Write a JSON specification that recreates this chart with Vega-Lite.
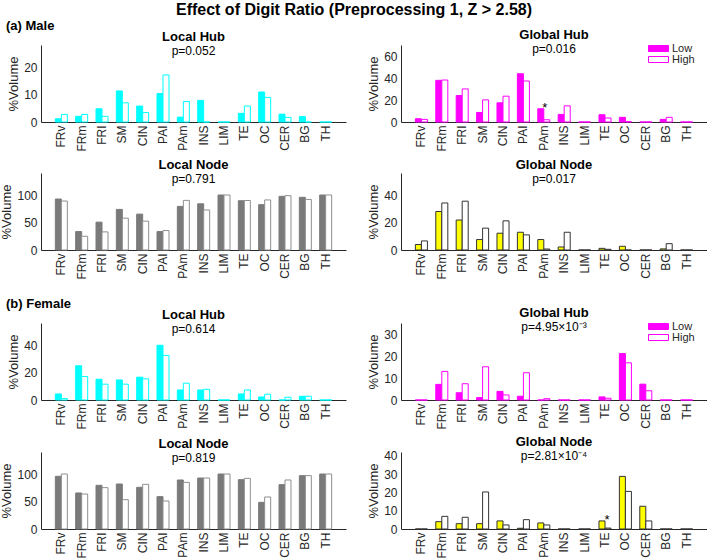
{
  "$schema": "https://vega.github.io/schema/vega-lite/v6.json",
  "padding": {"left": 0, "top": 2, "right": 0, "bottom": 0},
  "background": "#ffffff",
  "title": {"text": "Effect of Digit Ratio (Preprocessing 1, Z > 2.58)", "fontSize": 16, "fontWeight": "bold", "anchor": "middle", "offset": 2, "color": "#000000"},
  "datasets": {
    "bars": [
      {"panel":"M_LH","region":"FRv","group":"Low","value":1.2},{"panel":"M_LH","region":"FRv","group":"High","value":2.8},
      {"panel":"M_LH","region":"FRm","group":"Low","value":2.1},{"panel":"M_LH","region":"FRm","group":"High","value":2.8},
      {"panel":"M_LH","region":"FRI","group":"Low","value":4.9},{"panel":"M_LH","region":"FRI","group":"High","value":2.1},
      {"panel":"M_LH","region":"SM","group":"Low","value":11.5},{"panel":"M_LH","region":"SM","group":"High","value":7.1},
      {"panel":"M_LH","region":"CIN","group":"Low","value":5.9},{"panel":"M_LH","region":"CIN","group":"High","value":3.5},
      {"panel":"M_LH","region":"PAI","group":"Low","value":10.5},{"panel":"M_LH","region":"PAI","group":"High","value":17.4},
      {"panel":"M_LH","region":"PAm","group":"Low","value":1.8},{"panel":"M_LH","region":"PAm","group":"High","value":7.6},
      {"panel":"M_LH","region":"INS","group":"Low","value":8.0},{"panel":"M_LH","region":"INS","group":"High","value":0},
      {"panel":"M_LH","region":"LIM","group":"Low","value":0},{"panel":"M_LH","region":"LIM","group":"High","value":0},
      {"panel":"M_LH","region":"TE","group":"Low","value":3.2},{"panel":"M_LH","region":"TE","group":"High","value":5.9},
      {"panel":"M_LH","region":"OC","group":"Low","value":11.1},{"panel":"M_LH","region":"OC","group":"High","value":9.1},
      {"panel":"M_LH","region":"CER","group":"Low","value":2.9},{"panel":"M_LH","region":"CER","group":"High","value":1.7},
      {"panel":"M_LH","region":"BG","group":"Low","value":2.0},{"panel":"M_LH","region":"BG","group":"High","value":0},
      {"panel":"M_LH","region":"TH","group":"Low","value":0},{"panel":"M_LH","region":"TH","group":"High","value":0},

      {"panel":"M_GH","region":"FRv","group":"Low","value":3.0},{"panel":"M_GH","region":"FRv","group":"High","value":2.4},
      {"panel":"M_GH","region":"FRm","group":"Low","value":38.4},{"panel":"M_GH","region":"FRm","group":"High","value":38.7},
      {"panel":"M_GH","region":"FRI","group":"Low","value":24.4},{"panel":"M_GH","region":"FRI","group":"High","value":30.5},
      {"panel":"M_GH","region":"SM","group":"Low","value":8.8},{"panel":"M_GH","region":"SM","group":"High","value":20.4},
      {"panel":"M_GH","region":"CIN","group":"Low","value":17.7},{"panel":"M_GH","region":"CIN","group":"High","value":23.8},
      {"panel":"M_GH","region":"PAI","group":"Low","value":44.5},{"panel":"M_GH","region":"PAI","group":"High","value":37.8},
      {"panel":"M_GH","region":"PAm","group":"Low","value":12.2},{"panel":"M_GH","region":"PAm","group":"High","value":2.1},
      {"panel":"M_GH","region":"INS","group":"Low","value":7.0},{"panel":"M_GH","region":"INS","group":"High","value":14.9},
      {"panel":"M_GH","region":"LIM","group":"Low","value":0},{"panel":"M_GH","region":"LIM","group":"High","value":0},
      {"panel":"M_GH","region":"TE","group":"Low","value":6.7},{"panel":"M_GH","region":"TE","group":"High","value":3.7},
      {"panel":"M_GH","region":"OC","group":"Low","value":4.3},{"panel":"M_GH","region":"OC","group":"High","value":0.3},
      {"panel":"M_GH","region":"CER","group":"Low","value":0},{"panel":"M_GH","region":"CER","group":"High","value":0},
      {"panel":"M_GH","region":"BG","group":"Low","value":2.4},{"panel":"M_GH","region":"BG","group":"High","value":4.3},
      {"panel":"M_GH","region":"TH","group":"Low","value":0},{"panel":"M_GH","region":"TH","group":"High","value":0},

      {"panel":"M_LN","region":"FRv","group":"Low","value":92.7},{"panel":"M_LN","region":"FRv","group":"High","value":89},
      {"panel":"M_LN","region":"FRm","group":"Low","value":33.5},{"panel":"M_LN","region":"FRm","group":"High","value":25},
      {"panel":"M_LN","region":"FRI","group":"Low","value":50.6},{"panel":"M_LN","region":"FRI","group":"High","value":32.9},
      {"panel":"M_LN","region":"SM","group":"Low","value":73.8},{"panel":"M_LN","region":"SM","group":"High","value":57.9},
      {"panel":"M_LN","region":"CIN","group":"Low","value":65.2},{"panel":"M_LN","region":"CIN","group":"High","value":52.4},
      {"panel":"M_LN","region":"PAI","group":"Low","value":33.5},{"panel":"M_LN","region":"PAI","group":"High","value":35.4},
      {"panel":"M_LN","region":"PAm","group":"Low","value":79.3},{"panel":"M_LN","region":"PAm","group":"High","value":90.2},
      {"panel":"M_LN","region":"INS","group":"Low","value":84},{"panel":"M_LN","region":"INS","group":"High","value":72.7},
      {"panel":"M_LN","region":"LIM","group":"Low","value":100},{"panel":"M_LN","region":"LIM","group":"High","value":100},
      {"panel":"M_LN","region":"TE","group":"Low","value":89.6},{"panel":"M_LN","region":"TE","group":"High","value":90},
      {"panel":"M_LN","region":"OC","group":"Low","value":82.4},{"panel":"M_LN","region":"OC","group":"High","value":91},
      {"panel":"M_LN","region":"CER","group":"Low","value":97.6},{"panel":"M_LN","region":"CER","group":"High","value":98.8},
      {"panel":"M_LN","region":"BG","group":"Low","value":95.8},{"panel":"M_LN","region":"BG","group":"High","value":92},
      {"panel":"M_LN","region":"TH","group":"Low","value":100},{"panel":"M_LN","region":"TH","group":"High","value":100},

      {"panel":"M_GN","region":"FRv","group":"Low","value":4.0},{"panel":"M_GN","region":"FRv","group":"High","value":6.6},
      {"panel":"M_GN","region":"FRm","group":"Low","value":28},{"panel":"M_GN","region":"FRm","group":"High","value":34.2},
      {"panel":"M_GN","region":"FRI","group":"Low","value":21.8},{"panel":"M_GN","region":"FRI","group":"High","value":35.5},
      {"panel":"M_GN","region":"SM","group":"Low","value":7.6},{"panel":"M_GN","region":"SM","group":"High","value":15.9},
      {"panel":"M_GN","region":"CIN","group":"Low","value":12.2},{"panel":"M_GN","region":"CIN","group":"High","value":21.2},
      {"panel":"M_GN","region":"PAI","group":"Low","value":12.9},{"panel":"M_GN","region":"PAI","group":"High","value":11},
      {"panel":"M_GN","region":"PAm","group":"Low","value":7.6},{"panel":"M_GN","region":"PAm","group":"High","value":0.7},
      {"panel":"M_GN","region":"INS","group":"Low","value":2.2},{"panel":"M_GN","region":"INS","group":"High","value":12.9},
      {"panel":"M_GN","region":"LIM","group":"Low","value":0},{"panel":"M_GN","region":"LIM","group":"High","value":0},
      {"panel":"M_GN","region":"TE","group":"Low","value":1.2},{"panel":"M_GN","region":"TE","group":"High","value":0.5},
      {"panel":"M_GN","region":"OC","group":"Low","value":2.7},{"panel":"M_GN","region":"OC","group":"High","value":0},
      {"panel":"M_GN","region":"CER","group":"Low","value":0},{"panel":"M_GN","region":"CER","group":"High","value":0},
      {"panel":"M_GN","region":"BG","group":"Low","value":0.8},{"panel":"M_GN","region":"BG","group":"High","value":4.6},
      {"panel":"M_GN","region":"TH","group":"Low","value":0},{"panel":"M_GN","region":"TH","group":"High","value":0},

      {"panel":"F_LH","region":"FRv","group":"Low","value":4.4},{"panel":"F_LH","region":"FRv","group":"High","value":1.0},
      {"panel":"F_LH","region":"FRm","group":"Low","value":24.9},{"panel":"F_LH","region":"FRm","group":"High","value":17.1},
      {"panel":"F_LH","region":"FRI","group":"Low","value":15.1},{"panel":"F_LH","region":"FRI","group":"High","value":11.5},
      {"panel":"F_LH","region":"SM","group":"Low","value":14.6},{"panel":"F_LH","region":"SM","group":"High","value":11.5},
      {"panel":"F_LH","region":"CIN","group":"Low","value":16.6},{"panel":"F_LH","region":"CIN","group":"High","value":15.4},
      {"panel":"F_LH","region":"PAI","group":"Low","value":39.8},{"panel":"F_LH","region":"PAI","group":"High","value":32.4},
      {"panel":"F_LH","region":"PAm","group":"Low","value":7.3},{"panel":"F_LH","region":"PAm","group":"High","value":12.2},
      {"panel":"F_LH","region":"INS","group":"Low","value":7.3},{"panel":"F_LH","region":"INS","group":"High","value":7.8},
      {"panel":"F_LH","region":"LIM","group":"Low","value":0},{"panel":"F_LH","region":"LIM","group":"High","value":0},
      {"panel":"F_LH","region":"TE","group":"Low","value":4.4},{"panel":"F_LH","region":"TE","group":"High","value":7.3},
      {"panel":"F_LH","region":"OC","group":"Low","value":2.2},{"panel":"F_LH","region":"OC","group":"High","value":4.2},
      {"panel":"F_LH","region":"CER","group":"Low","value":0},{"panel":"F_LH","region":"CER","group":"High","value":2.0},
      {"panel":"F_LH","region":"BG","group":"Low","value":2.7},{"panel":"F_LH","region":"BG","group":"High","value":2.7},
      {"panel":"F_LH","region":"TH","group":"Low","value":0},{"panel":"F_LH","region":"TH","group":"High","value":0},

      {"panel":"F_GH","region":"FRv","group":"Low","value":0},{"panel":"F_GH","region":"FRv","group":"High","value":0},
      {"panel":"F_GH","region":"FRm","group":"Low","value":7.1},{"panel":"F_GH","region":"FRm","group":"High","value":13},
      {"panel":"F_GH","region":"FRI","group":"Low","value":3.3},{"panel":"F_GH","region":"FRI","group":"High","value":7.4},
      {"panel":"F_GH","region":"SM","group":"Low","value":1.1},{"panel":"F_GH","region":"SM","group":"High","value":15.1},
      {"panel":"F_GH","region":"CIN","group":"Low","value":3.9},{"panel":"F_GH","region":"CIN","group":"High","value":2.3},
      {"panel":"F_GH","region":"PAI","group":"Low","value":1.7},{"panel":"F_GH","region":"PAI","group":"High","value":12.4},
      {"panel":"F_GH","region":"PAm","group":"Low","value":0},{"panel":"F_GH","region":"PAm","group":"High","value":0.6},
      {"panel":"F_GH","region":"INS","group":"Low","value":0},{"panel":"F_GH","region":"INS","group":"High","value":0},
      {"panel":"F_GH","region":"LIM","group":"Low","value":0},{"panel":"F_GH","region":"LIM","group":"High","value":0},
      {"panel":"F_GH","region":"TE","group":"Low","value":1.4},{"panel":"F_GH","region":"TE","group":"High","value":0.8},
      {"panel":"F_GH","region":"OC","group":"Low","value":21.1},{"panel":"F_GH","region":"OC","group":"High","value":16.9},
      {"panel":"F_GH","region":"CER","group":"Low","value":7.2},{"panel":"F_GH","region":"CER","group":"High","value":4.2},
      {"panel":"F_GH","region":"BG","group":"Low","value":0},{"panel":"F_GH","region":"BG","group":"High","value":0},
      {"panel":"F_GH","region":"TH","group":"Low","value":0},{"panel":"F_GH","region":"TH","group":"High","value":0},

      {"panel":"F_LN","region":"FRv","group":"Low","value":95.8},{"panel":"F_LN","region":"FRv","group":"High","value":100},
      {"panel":"F_LN","region":"FRm","group":"Low","value":65.5},{"panel":"F_LN","region":"FRm","group":"High","value":63.6},
      {"panel":"F_LN","region":"FRI","group":"Low","value":79.4},{"panel":"F_LN","region":"FRI","group":"High","value":75.2},
      {"panel":"F_LN","region":"SM","group":"Low","value":81.8},{"panel":"F_LN","region":"SM","group":"High","value":53.3},
      {"panel":"F_LN","region":"CIN","group":"Low","value":75.8},{"panel":"F_LN","region":"CIN","group":"High","value":81.2},
      {"panel":"F_LN","region":"PAI","group":"Low","value":58.8},{"panel":"F_LN","region":"PAI","group":"High","value":50.9},
      {"panel":"F_LN","region":"PAm","group":"Low","value":89.1},{"panel":"F_LN","region":"PAm","group":"High","value":84.8},
      {"panel":"F_LN","region":"INS","group":"Low","value":92.7},{"panel":"F_LN","region":"INS","group":"High","value":92.7},
      {"panel":"F_LN","region":"LIM","group":"Low","value":100},{"panel":"F_LN","region":"LIM","group":"High","value":100},
      {"panel":"F_LN","region":"TE","group":"Low","value":89.7},{"panel":"F_LN","region":"TE","group":"High","value":92.1},
      {"panel":"F_LN","region":"OC","group":"Low","value":48.5},{"panel":"F_LN","region":"OC","group":"High","value":58.2},
      {"panel":"F_LN","region":"CER","group":"Low","value":80.6},{"panel":"F_LN","region":"CER","group":"High","value":89.1},
      {"panel":"F_LN","region":"BG","group":"Low","value":97},{"panel":"F_LN","region":"BG","group":"High","value":97},
      {"panel":"F_LN","region":"TH","group":"Low","value":100},{"panel":"F_LN","region":"TH","group":"High","value":100},

      {"panel":"F_GN","region":"FRv","group":"Low","value":0},{"panel":"F_GN","region":"FRv","group":"High","value":0},
      {"panel":"F_GN","region":"FRm","group":"Low","value":4.0},{"panel":"F_GN","region":"FRm","group":"High","value":6.9},
      {"panel":"F_GN","region":"FRI","group":"Low","value":2.9},{"panel":"F_GN","region":"FRI","group":"High","value":6.4},
      {"panel":"F_GN","region":"SM","group":"Low","value":2.9},{"panel":"F_GN","region":"SM","group":"High","value":20.2},
      {"panel":"F_GN","region":"CIN","group":"Low","value":4.4},{"panel":"F_GN","region":"CIN","group":"High","value":2.2},
      {"panel":"F_GN","region":"PAI","group":"Low","value":0.4},{"panel":"F_GN","region":"PAI","group":"High","value":5.1},
      {"panel":"F_GN","region":"PAm","group":"Low","value":3.3},{"panel":"F_GN","region":"PAm","group":"High","value":2.2},
      {"panel":"F_GN","region":"INS","group":"Low","value":0},{"panel":"F_GN","region":"INS","group":"High","value":0},
      {"panel":"F_GN","region":"LIM","group":"Low","value":0},{"panel":"F_GN","region":"LIM","group":"High","value":0},
      {"panel":"F_GN","region":"TE","group":"Low","value":4.4},{"panel":"F_GN","region":"TE","group":"High","value":0.5},
      {"panel":"F_GN","region":"OC","group":"Low","value":28.7},{"panel":"F_GN","region":"OC","group":"High","value":20.5},
      {"panel":"F_GN","region":"CER","group":"Low","value":12.4},{"panel":"F_GN","region":"CER","group":"High","value":4.4},
      {"panel":"F_GN","region":"BG","group":"Low","value":0},{"panel":"F_GN","region":"BG","group":"High","value":0},
      {"panel":"F_GN","region":"TH","group":"Low","value":0},{"panel":"F_GN","region":"TH","group":"High","value":0}
    ],
    "stars": [
      {"panel":"M_GH","region":"PAm","value":15.5},
      {"panel":"F_GN","region":"TE","value":6.3}
    ]
  },
  "data": {"name": "bars"},
  "resolve": {"scale": {"x": "independent", "y": "independent", "xOffset": "independent", "fill": "independent", "stroke": "independent"}, "legend": {"fill": "independent", "stroke": "independent"}},
  "spacing": 19,
  "vconcat": [
    {
      "title": {"text": "(a)  Male", "anchor": "start", "fontSize": 13, "fontWeight": "bold", "offset": -4, "dx": 5, "subtitle": null},
      "columns": 2,
      "spacing": {"row": 8, "column": 21},
      "resolve": {"scale": {"x": "independent", "y": "independent", "xOffset": "independent", "fill": "independent", "stroke": "independent"}, "legend": {"fill": "independent", "stroke": "independent"}},
      "concat": [
        {
          "width": 305, "height": 77,
          "title": {"text": "Local Hub", "subtitle": "p=0.052"},
          "transform": [{"filter": "datum.panel === 'M_LH'"}],
          "mark": {"type": "bar", "strokeWidth": 1},
          "encoding": {
            "x": {"field": "region", "type": "nominal", "sort": ["FRv","FRm","FRI","SM","CIN","PAI","PAm","INS","LIM","TE","OC","CER","BG","TH"], "scale": {"paddingInner": 0.41, "paddingOuter": 0.705}},
            "xOffset": {"field": "group", "type": "nominal", "sort": ["Low","High"]},
            "y": {"field": "value", "type": "quantitative", "scale": {"domain": [0, 28.5], "nice": false}, "axis": {"title": "%Volume", "values": [0, 10, 20]}},
            "fill": {"field": "group", "type": "nominal", "scale": {"domain": ["Low","High"], "range": ["#00ffff","#ffffff"]}, "legend": null},
            "stroke": {"field": "group", "type": "nominal", "scale": {"domain": ["Low","High"], "range": ["#00ffff","#00ffff"]}, "legend": null}
          }
        },
        {
          "width": 306, "height": 77,
          "title": {"text": "Global Hub", "subtitle": "p=0.016"},
          "layer": [
            {
              "transform": [{"filter": "datum.panel === 'M_GH'"}],
              "mark": {"type": "bar", "strokeWidth": 1},
              "encoding": {
                "x": {"field": "region", "type": "nominal", "sort": ["FRv","FRm","FRI","SM","CIN","PAI","PAm","INS","LIM","TE","OC","CER","BG","TH"], "scale": {"paddingInner": 0.41, "paddingOuter": 0.705}},
                "xOffset": {"field": "group", "type": "nominal", "sort": ["Low","High"]},
                "y": {"field": "value", "type": "quantitative", "scale": {"domain": [0, 71], "nice": false}, "axis": {"title": "%Volume", "values": [0, 20, 40, 60]}},
                "fill": {"field": "group", "type": "nominal", "scale": {"domain": ["Low","High"], "range": ["#ff00ff","#ffffff"]}, "legend": {"title": null, "orient": "none", "legendX": 252, "legendY": -2, "symbolType": "M-3.33,-1H3.33V1H-3.33Z", "symbolSize": 36, "symbolStrokeWidth": 1, "symbolStrokeColor": "#ff00ff", "labelOffset": 8, "labelFontSize": 11, "rowPadding": -10, "padding": 0, "labelColor": "#262626"}},
                "stroke": {"field": "group", "type": "nominal", "scale": {"domain": ["Low","High"], "range": ["#ff00ff","#ff00ff"]}, "legend": {"title": null, "orient": "none", "legendX": 252, "legendY": -2, "symbolType": "M-3.33,-1H3.33V1H-3.33Z", "symbolSize": 36, "symbolStrokeWidth": 1, "symbolStrokeColor": "#ff00ff", "labelOffset": 8, "labelFontSize": 11, "rowPadding": -10, "padding": 0, "labelColor": "#262626"}}
              }
            },
            {
              "data": {"name": "stars"},
              "transform": [{"filter": "datum.panel === 'M_GH'"}],
              "mark": {"type": "text", "text": "*", "fontSize": 13, "baseline": "middle", "dx": 1, "dy": 3, "color": "#000000"},
              "encoding": {
                "x": {"field": "region", "type": "nominal", "sort": ["FRv","FRm","FRI","SM","CIN","PAI","PAm","INS","LIM","TE","OC","CER","BG","TH"]},
                "y": {"field": "value", "type": "quantitative", "axis": {"title": "%Volume", "values": [0, 20, 40, 60]}}
              }
            }
          ]
        },
        {
          "width": 305, "height": 77,
          "title": {"text": "Local Node", "subtitle": "p=0.791"},
          "transform": [{"filter": "datum.panel === 'M_LN'"}],
          "mark": {"type": "bar", "strokeWidth": 1},
          "encoding": {
            "x": {"field": "region", "type": "nominal", "sort": ["FRv","FRm","FRI","SM","CIN","PAI","PAm","INS","LIM","TE","OC","CER","BG","TH"], "scale": {"paddingInner": 0.41, "paddingOuter": 0.705}},
            "xOffset": {"field": "group", "type": "nominal", "sort": ["Low","High"]},
            "y": {"field": "value", "type": "quantitative", "scale": {"domain": [0, 140], "nice": false}, "axis": {"title": "%Volume", "values": [0, 50, 100]}},
            "fill": {"field": "group", "type": "nominal", "scale": {"domain": ["Low","High"], "range": ["#7a7a7a","#ffffff"]}, "legend": null},
            "stroke": {"field": "group", "type": "nominal", "scale": {"domain": ["Low","High"], "range": ["#7a7a7a","#8f8f8f"]}, "legend": null}
          }
        },
        {
          "width": 306, "height": 77,
          "title": {"text": "Global Node", "subtitle": "p=0.017"},
          "transform": [{"filter": "datum.panel === 'M_GN'"}],
          "mark": {"type": "bar", "strokeWidth": 1},
          "encoding": {
            "x": {"field": "region", "type": "nominal", "sort": ["FRv","FRm","FRI","SM","CIN","PAI","PAm","INS","LIM","TE","OC","CER","BG","TH"], "scale": {"paddingInner": 0.41, "paddingOuter": 0.705}},
            "xOffset": {"field": "group", "type": "nominal", "sort": ["Low","High"]},
            "y": {"field": "value", "type": "quantitative", "scale": {"domain": [0, 56], "nice": false}, "axis": {"title": "%Volume", "values": [0, 20, 40]}},
            "fill": {"field": "group", "type": "nominal", "scale": {"domain": ["Low","High"], "range": ["#ffff00","#ffffff"]}, "legend": null},
            "stroke": {"field": "group", "type": "nominal", "scale": {"domain": ["Low","High"], "range": ["#333333","#333333"]}, "legend": null}
          }
        }
      ]
    },
    {
      "title": {"text": "(b)  Female", "anchor": "start", "fontSize": 13, "fontWeight": "bold", "offset": -4, "dx": 5, "subtitle": null},
      "columns": 2,
      "spacing": {"row": 6, "column": 21},
      "resolve": {"scale": {"x": "independent", "y": "independent", "xOffset": "independent", "fill": "independent", "stroke": "independent"}, "legend": {"fill": "independent", "stroke": "independent"}},
      "concat": [
        {
          "width": 305, "height": 77,
          "title": {"text": "Local Hub", "subtitle": "p=0.614"},
          "transform": [{"filter": "datum.panel === 'F_LH'"}],
          "mark": {"type": "bar", "strokeWidth": 1},
          "encoding": {
            "x": {"field": "region", "type": "nominal", "sort": ["FRv","FRm","FRI","SM","CIN","PAI","PAm","INS","LIM","TE","OC","CER","BG","TH"], "scale": {"paddingInner": 0.41, "paddingOuter": 0.705}},
            "xOffset": {"field": "group", "type": "nominal", "sort": ["Low","High"]},
            "y": {"field": "value", "type": "quantitative", "scale": {"domain": [0, 56], "nice": false}, "axis": {"title": "%Volume", "values": [0, 20, 40]}},
            "fill": {"field": "group", "type": "nominal", "scale": {"domain": ["Low","High"], "range": ["#00ffff","#ffffff"]}, "legend": null},
            "stroke": {"field": "group", "type": "nominal", "scale": {"domain": ["Low","High"], "range": ["#00ffff","#00ffff"]}, "legend": null}
          }
        },
        {
          "width": 306, "height": 77,
          "title": {"text": "Global Hub", "subtitle": "p=4.95×10⁻³"},
          "transform": [{"filter": "datum.panel === 'F_GH'"}],
          "mark": {"type": "bar", "strokeWidth": 1},
          "encoding": {
            "x": {"field": "region", "type": "nominal", "sort": ["FRv","FRm","FRI","SM","CIN","PAI","PAm","INS","LIM","TE","OC","CER","BG","TH"], "scale": {"paddingInner": 0.41, "paddingOuter": 0.705}},
            "xOffset": {"field": "group", "type": "nominal", "sort": ["Low","High"]},
            "y": {"field": "value", "type": "quantitative", "scale": {"domain": [0, 35], "nice": false}, "axis": {"title": "%Volume", "values": [0, 10, 20, 30]}},
            "fill": {"field": "group", "type": "nominal", "scale": {"domain": ["Low","High"], "range": ["#ff00ff","#ffffff"]}, "legend": {"title": null, "orient": "none", "legendX": 252, "legendY": -2, "symbolType": "M-3.33,-1H3.33V1H-3.33Z", "symbolSize": 36, "symbolStrokeWidth": 1, "symbolStrokeColor": "#ff00ff", "labelOffset": 8, "labelFontSize": 11, "rowPadding": -10, "padding": 0, "labelColor": "#262626"}},
            "stroke": {"field": "group", "type": "nominal", "scale": {"domain": ["Low","High"], "range": ["#ff00ff","#ff00ff"]}, "legend": {"title": null, "orient": "none", "legendX": 252, "legendY": -2, "symbolType": "M-3.33,-1H3.33V1H-3.33Z", "symbolSize": 36, "symbolStrokeWidth": 1, "symbolStrokeColor": "#ff00ff", "labelOffset": 8, "labelFontSize": 11, "rowPadding": -10, "padding": 0, "labelColor": "#262626"}}
          }
        },
        {
          "width": 305, "height": 77,
          "title": {"text": "Local Node", "subtitle": "p=0.819"},
          "transform": [{"filter": "datum.panel === 'F_LN'"}],
          "mark": {"type": "bar", "strokeWidth": 1},
          "encoding": {
            "x": {"field": "region", "type": "nominal", "sort": ["FRv","FRm","FRI","SM","CIN","PAI","PAm","INS","LIM","TE","OC","CER","BG","TH"], "scale": {"paddingInner": 0.41, "paddingOuter": 0.705}},
            "xOffset": {"field": "group", "type": "nominal", "sort": ["Low","High"]},
            "y": {"field": "value", "type": "quantitative", "scale": {"domain": [0, 140], "nice": false}, "axis": {"title": "%Volume", "values": [0, 50, 100]}},
            "fill": {"field": "group", "type": "nominal", "scale": {"domain": ["Low","High"], "range": ["#7a7a7a","#ffffff"]}, "legend": null},
            "stroke": {"field": "group", "type": "nominal", "scale": {"domain": ["Low","High"], "range": ["#7a7a7a","#8f8f8f"]}, "legend": null}
          }
        },
        {
          "width": 306, "height": 77,
          "title": {"text": "Global Node", "subtitle": "p=2.81×10⁻⁴"},
          "layer": [
            {
              "transform": [{"filter": "datum.panel === 'F_GN'"}],
              "mark": {"type": "bar", "strokeWidth": 1},
              "encoding": {
                "x": {"field": "region", "type": "nominal", "sort": ["FRv","FRm","FRI","SM","CIN","PAI","PAm","INS","LIM","TE","OC","CER","BG","TH"], "scale": {"paddingInner": 0.41, "paddingOuter": 0.705}},
                "xOffset": {"field": "group", "type": "nominal", "sort": ["Low","High"]},
                "y": {"field": "value", "type": "quantitative", "scale": {"domain": [0, 42], "nice": false}, "axis": {"title": "%Volume", "values": [0, 10, 20, 30, 40]}},
                "fill": {"field": "group", "type": "nominal", "scale": {"domain": ["Low","High"], "range": ["#ffff00","#ffffff"]}, "legend": null},
                "stroke": {"field": "group", "type": "nominal", "scale": {"domain": ["Low","High"], "range": ["#333333","#333333"]}, "legend": null}
              }
            },
            {
              "data": {"name": "stars"},
              "transform": [{"filter": "datum.panel === 'F_GN'"}],
              "mark": {"type": "text", "text": "*", "fontSize": 13, "baseline": "middle", "dx": 2, "dy": 3, "color": "#000000"},
              "encoding": {
                "x": {"field": "region", "type": "nominal", "sort": ["FRv","FRm","FRI","SM","CIN","PAI","PAm","INS","LIM","TE","OC","CER","BG","TH"]},
                "y": {"field": "value", "type": "quantitative", "axis": {"title": "%Volume", "values": [0, 10, 20, 30, 40]}}
              }
            }
          ]
        }
      ]
    }
  ],
  "config": {
    "font": "Liberation Sans",
    "view": {"stroke": null},
    "axis": {"domainColor": "#262626", "labelColor": "#262626", "titleColor": "#262626", "ticks": false, "grid": false, "labelFontSize": 12, "titleFontSize": 13, "titleFontWeight": "normal", "labelFont": "Liberation Sans", "titleFont": "Liberation Sans", "domainWidth": 1},
    "axisX": {"labelAngle": -90, "labelPadding": 3, "title": null},
    "axisY": {"labelPadding": 4, "titlePadding": 3, "labelOverlap": false},
    "legend": {"labelFont": "Liberation Sans"},
    "title": {"fontSize": 13, "fontWeight": "bold", "subtitleFontSize": 12, "offset": -12, "subtitlePadding": 2, "color": "#000000", "subtitleColor": "#000000", "font": "Liberation Sans", "subtitleFont": "Liberation Sans"}
  }
}
